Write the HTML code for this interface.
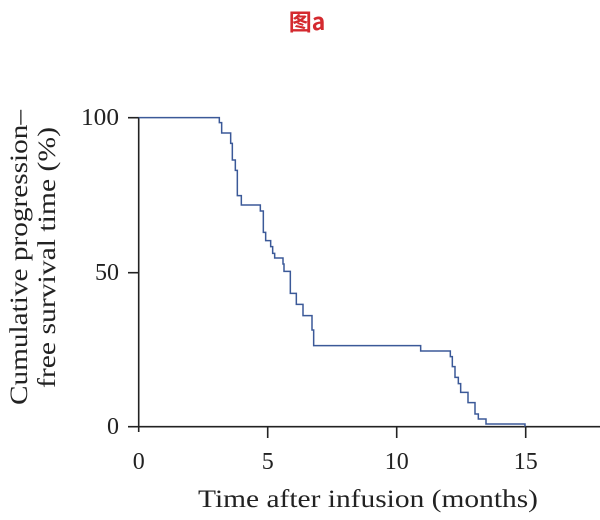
<!DOCTYPE html>
<html><head><meta charset="utf-8"><style>
html,body{margin:0;padding:0;background:#fff;width:600px;height:520px;overflow:hidden}
</style></head><body>
<svg width="600" height="520" xmlns="http://www.w3.org/2000/svg">
<text x="307" y="30" text-anchor="middle" font-family="'Noto Sans CJK SC',sans-serif" font-weight="bold" font-size="23" fill="#d42a2f">图a</text>
<g stroke="#222" stroke-width="1.6" fill="none">
<line x1="138.7" y1="117" x2="138.7" y2="432"/>
<line x1="138" y1="426.7" x2="600" y2="426.7"/>
<line x1="128" y1="117.7" x2="138.7" y2="117.7"/>
<line x1="128" y1="272.7" x2="138.7" y2="272.7"/>
<line x1="128" y1="426.7" x2="138.7" y2="426.7"/>
<line x1="267.7" y1="426.7" x2="267.7" y2="438"/>
<line x1="396.7" y1="426.7" x2="396.7" y2="438"/>
<line x1="525.7" y1="426.7" x2="525.7" y2="438"/>
</g>
<g transform="translate(130,100) scale(0.33333)">
<path fill="none" stroke="#3b5998" stroke-width="4.5" d="M26,53H268V68H275V99H302V130H307V180H316V211H322V287H334V315H391V333H400V397H407V422H422V440H428V460H434V474H459V492H462V514H481V580H499V613H519V647H546V690H551V737H872V753H961V770H967V800H975V832H985V851H992V877H1014V908H1035V942H1045V957H1068V972H1185V980"/>
</g>
<g font-family="'Liberation Serif',serif" font-size="24" fill="#222">
<text x="119" y="125" text-anchor="end" textLength="38" lengthAdjust="spacingAndGlyphs">100</text>
<text x="119" y="280" text-anchor="end">50</text>
<text x="119" y="434" text-anchor="end">0</text>
<text x="138.7" y="469" text-anchor="middle">0</text>
<text x="267.7" y="469" text-anchor="middle">5</text>
<text x="396.7" y="469" text-anchor="middle">10</text>
<text x="525.7" y="469" text-anchor="middle">15</text>
<text x="198" y="507" font-size="25" textLength="340" lengthAdjust="spacingAndGlyphs">Time after infusion (months)</text>
<text transform="translate(27,405) rotate(-90)" font-size="25" textLength="295" lengthAdjust="spacingAndGlyphs">Cumulative progression–</text>
<text transform="translate(55,388) rotate(-90)" font-size="25" textLength="261" lengthAdjust="spacingAndGlyphs">free survival time (%)</text>
</g>
</svg>
</body></html>
